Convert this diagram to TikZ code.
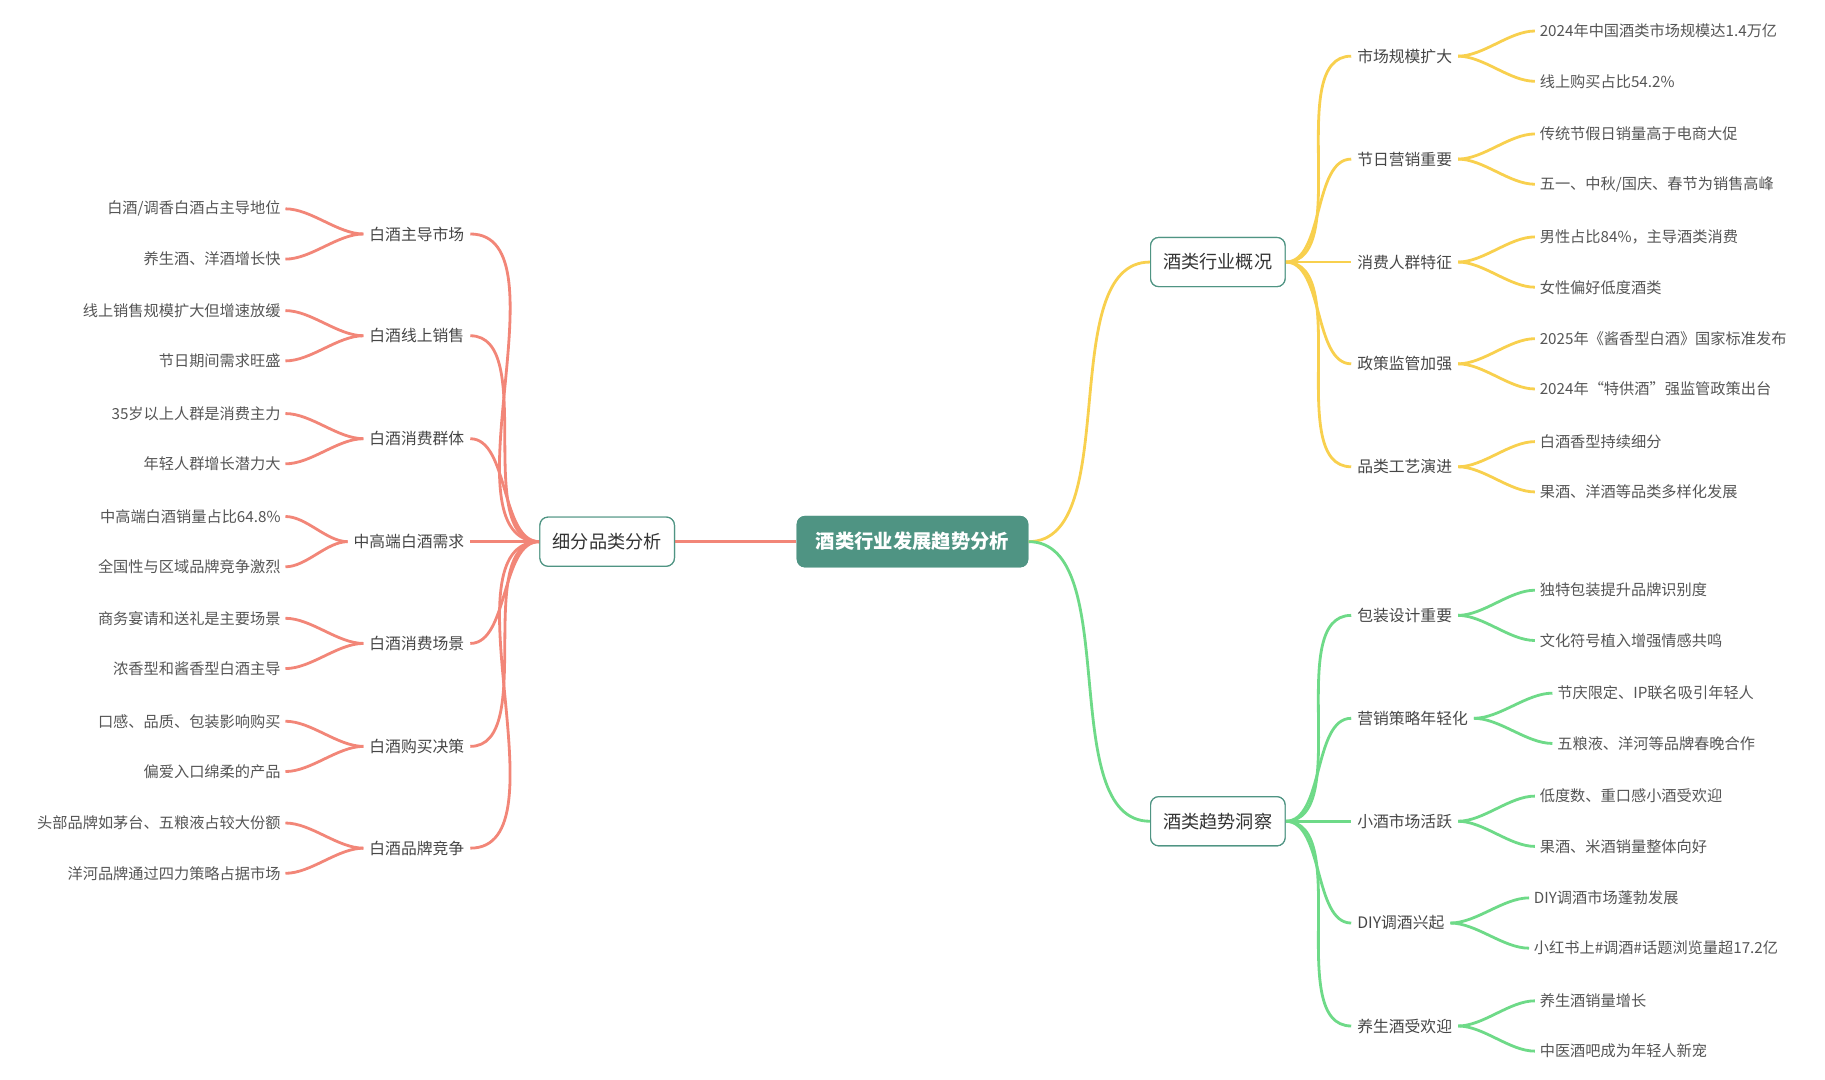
\documentclass[tikz,border=0pt]{standalone}
\usepackage{fontspec}
\setmainfont{Noto Sans CJK SC}
\begin{document}
\begin{tikzpicture}[x=1pt,y=-1pt,
  yel/.style={draw={rgb,255:red,248;green,208;blue,78},line width=2.4pt},
  grn/.style={draw={rgb,255:red,110;green,218;blue,136},line width=2.4pt},
  sal/.style={draw={rgb,255:red,242;green,134;blue,120},line width=2.4pt},
  leaf/.style={font=\fontsize{13}{15}\selectfont,text={rgb,255:red,85;green,85;blue,85},inner sep=4pt},
  mid/.style={font=\fontsize{13.5}{16}\selectfont,text={rgb,255:red,70;green,70;blue,70},inner sep=5pt},
  mainbox/.style={draw={rgb,255:red,79;green,148;blue,131},line width=1pt,fill=white,rounded corners=7pt,minimum width=115pt,minimum height=42pt,font=\fontsize{15.5}{18}\selectfont,text={rgb,255:red,51;green,51;blue,51}},
  centerbox/.style={fill={rgb,255:red,79;green,148;blue,131},rounded corners=7pt,minimum width=198pt,minimum height=44pt,text=white,font=\fontsize{16.5}{19}\selectfont\bfseries},
  cv/.style={out=0,in=180,looseness=0.8},
  cvl/.style={out=180,in=0,looseness=0.8}]
\useasboundingbox (0,0) rectangle (1560,923);
\node[centerbox] (c) at (780,463) {酒类行业发展趋势分析};
\node[mainbox] (m1) at (1041,224) {酒类行业概况};
\node[mainbox] (m2) at (1041,702) {酒类趋势洞察};
\node[mainbox] (m3) at (519,463) {细分品类分析};
\draw[yel] (c.east) to[cv] (m1.west);
\draw[grn] (c.east) to[cv] (m2.west);
\draw[sal] (c.west) -- (m3.east);
\foreach \i/\y/\t/\a/\b/\lx in {1/48/市场规模扩大/2024年中国酒类市场规模达1.4万亿/线上购买占比54.2\%/1312,
 2/136/节日营销重要/传统节假日销量高于电商大促/{五一、中秋/国庆、春节为销售高峰}/1312,
 3/224/消费人群特征/男性占比84\%，主导酒类消费/女性偏好低度酒类/1312,
 4/311/政策监管加强/2025年《酱香型白酒》国家标准发布/2024年“特供酒”强监管政策出台/1312,
 5/399/品类工艺演进/白酒香型持续细分/果酒、洋酒等品类多样化发展/1312}{
  \node[mid,anchor=west] (y\i) at (1155,\y) {\t};
  \node[leaf,anchor=west] (ya\i) at (\lx,\y-21.5) {\a};
  \node[leaf,anchor=west] (yb\i) at (\lx,\y+21.5) {\b};
  \draw[yel] (m1.east) to[cv] (y\i.west);
  \draw[yel] (y\i.east) to[cv] (ya\i.west);
  \draw[yel] (y\i.east) to[cv] (yb\i.west);
}
\foreach \i/\y/\t/\a/\b/\lx in {1/526/包装设计重要/独特包装提升品牌识别度/文化符号植入增强情感共鸣/1312,
 2/614/营销策略年轻化/节庆限定、IP联名吸引年轻人/五粮液、洋河等品牌春晚合作/1327,
 3/702/小酒市场活跃/低度数、重口感小酒受欢迎/果酒、米酒销量整体向好/1312,
 4/789/DIY调酒兴起/DIY调酒市场蓬勃发展/小红书上\#调酒\#话题浏览量超17.2亿/1307,
 5/877/养生酒受欢迎/养生酒销量增长/中医酒吧成为年轻人新宠/1312}{
  \node[mid,anchor=west] (g\i) at (1155,\y) {\t};
  \node[leaf,anchor=west] (ga\i) at (\lx,\y-21.5) {\a};
  \node[leaf,anchor=west] (gb\i) at (\lx,\y+21.5) {\b};
  \draw[grn] (m2.east) to[cv] (g\i.west);
  \draw[grn] (g\i.east) to[cv] (ga\i.west);
  \draw[grn] (g\i.east) to[cv] (gb\i.west);
}
\foreach \i/\y/\t/\a/\b in {1/200/白酒主导市场/{白酒/调香白酒占主导地位}/养生酒、洋酒增长快,
 2/287/白酒线上销售/线上销售规模扩大但增速放缓/节日期间需求旺盛,
 3/375/白酒消费群体/35岁以上人群是消费主力/年轻人群增长潜力大,
 4/463/中高端白酒需求/中高端白酒销量占比64.8\%/全国性与区域品牌竞争激烈,
 5/550/白酒消费场景/商务宴请和送礼是主要场景/浓香型和酱香型白酒主导,
 6/638/白酒购买决策/口感、品质、包装影响购买/偏爱入口绵柔的产品,
 7/725/白酒品牌竞争/头部品牌如茅台、五粮液占较大份额/洋河品牌通过四力策略占据市场}{
  \node[mid,anchor=east] (s\i) at (402,\y) {\t};
  \node[leaf,anchor=east] (sa\i) at (244,\y-21.5) {\a};
  \node[leaf,anchor=east] (sb\i) at (244,\y+21.5) {\b};
  \draw[sal] (m3.west) to[cvl] (s\i.east);
  \draw[sal] (s\i.west) to[cvl] (sa\i.east);
  \draw[sal] (s\i.west) to[cvl] (sb\i.east);
}
\node[centerbox] (c2) at (780,463) {酒类行业发展趋势分析};
\node[mainbox] (m1b) at (1041,224) {酒类行业概况};
\node[mainbox] (m2b) at (1041,702) {酒类趋势洞察};
\node[mainbox] (m3b) at (519,463) {细分品类分析};
\end{tikzpicture}
\end{document}
